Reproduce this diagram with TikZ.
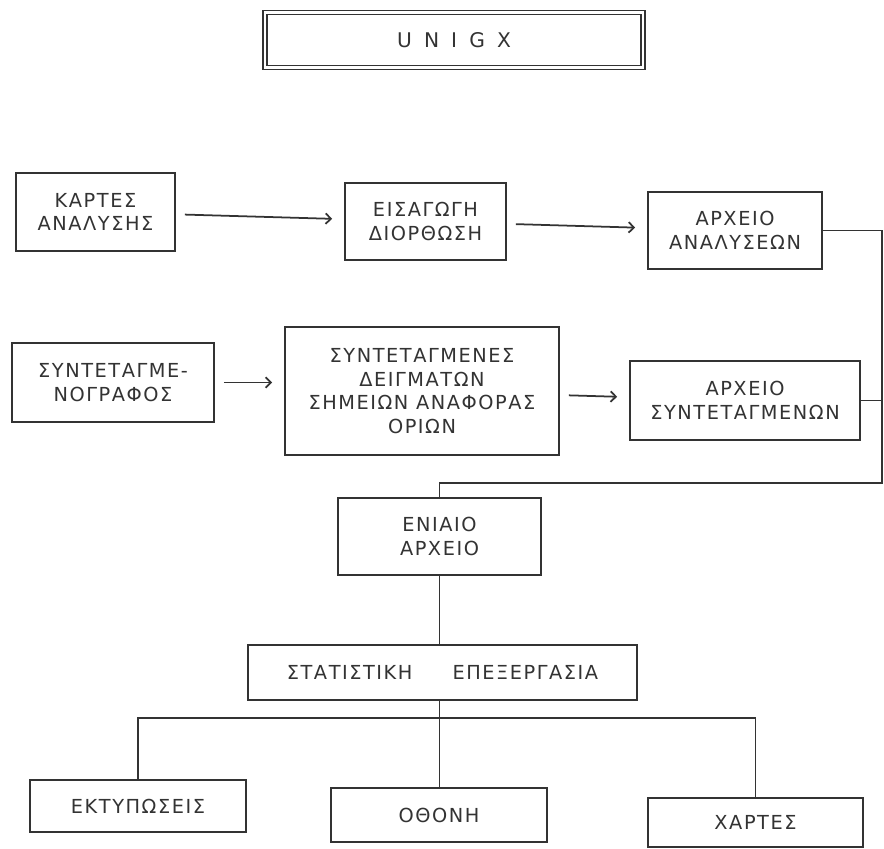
\documentclass[tikz,border=0pt]{standalone}
\usepackage{fontspec}
\setmainfont{DejaVu Sans}[LetterSpace=8]
\usepackage{tikz}
\usetikzlibrary{arrows.meta}
\tikzset{box/.style={draw=black!80, line width=1pt, text=black!80, align=center,
   font=\fontsize{11}{13.5}\selectfont, inner sep=0pt},
 title/.style={box, double, double distance=1.6pt, line width=0.7pt},
 arr/.style={draw=black!80, line width=1pt, -{Straight Barb[length=3pt,width=6pt]},
   shorten <=0.18cm, shorten >=0.24cm},
 wire/.style={draw=black!80, line width=1pt},
 }

\begin{document}
\begin{tikzpicture}
        \useasboundingbox (0, 0) rectangle (17.68, -16.96);
        \node[title, minimum width=7.56cm, minimum height=1.10cm] (unigx) at (9.08, -0.80)
            {\fontsize{11.5}{13}\selectfont\addfontfeatures{LetterSpace=28}U N I G X};
        % first row
        \node[box, minimum width=3.18cm, minimum height=1.56cm] (kartes) at (1.91, -4.24) {ΚΑΡΤΕΣ\\ΑΝΑΛΥΣΗΣ};
        \node[box, minimum width=3.22cm, minimum height=1.54cm] (eisag) at (8.51, -4.43) {ΕΙΣΑΓΩΓΗ\\ΔΙΟΡΘΩΣΗ};
        \node[box, minimum width=3.48cm, minimum height=1.54cm] (arxanal) at (14.70, -4.61) {ΑΡΧΕΙΟ\\ΑΝΑΛΥΣΕΩΝ};
        % second row
        \node[box, minimum width=4.04cm, minimum height=1.58cm] (syntgraf) at (2.26, -7.65) {ΣΥΝΤΕΤΑΓΜΕ-\\ΝΟΓΡΑΦΟΣ};
        \node[box, minimum width=5.48cm, minimum height=2.56cm] (syntdeig) at (8.44, -7.82)
            {ΣΥΝΤΕΤΑΓΜΕΝΕΣ\\ΔΕΙΓΜΑΤΩΝ\\ΣΗΜΕΙΩΝ ΑΝΑΦΟΡΑΣ\\ΟΡΙΩΝ};
        \node[box, minimum width=4.60cm, minimum height=1.58cm] (arxsynt) at (14.90, -8.01) {ΑΡΧΕΙΟ\\ΣΥΝΤΕΤΑΓΜΕΝΩΝ};
        \node[box, minimum width=4.06cm, minimum height=1.54cm] (eniaio) at (8.79, -10.73) {ΕΝΙΑΙΟ\\ΑΡΧΕΙΟ};
        \node[box, minimum width=7.78cm, minimum height=1.10cm] (stat) at (8.85, -13.45) {ΣΤΑΤΙΣΤΙΚΗ\hspace{0.8cm}ΕΠΕΞΕΡΓΑΣΙΑ};
        % outputs
        \node[box, minimum width=4.32cm, minimum height=1.04cm] (ektyp) at (2.76, -16.12) {ΕΚΤΥΠΩΣΕΙΣ};
        \node[box, minimum width=4.32cm, minimum height=1.08cm] (othoni) at (8.78, -16.30) {ΟΘΟΝΗ};
        \node[box, minimum width=4.30cm, minimum height=0.98cm] (xartes) at (15.11, -16.45) {ΧΑΡΤΕΣ};
        \coordinate (rb) at (17.64, -9.66);
        \coordinate (split) at (8.79, -14.36);
        \draw[arr] (kartes) -- (eisag);
        \draw[arr] (eisag) -- (arxanal);
        \draw[arr] (syntgraf.east) -- (syntgraf.east -| syntdeig.west);
        \draw[arr] (syntdeig) -- (arxsynt);
        \draw[wire] (arxanal.east) -- (arxanal.east -| rb) -- (rb) -- (rb -| eniaio.north) -- (eniaio.north);
        \draw[wire] (arxsynt.east) -- (arxsynt.east -| rb);
        \draw[wire] (eniaio.south) -- (eniaio.south |- stat.north);
        \draw[wire] (stat.south -| split) -- (split);
        \draw[wire] (ektyp.north) |- (split) -| (xartes.north);
        \draw[wire] (split) -- (split |- othoni.north);
    \end{tikzpicture}
\end{document}
